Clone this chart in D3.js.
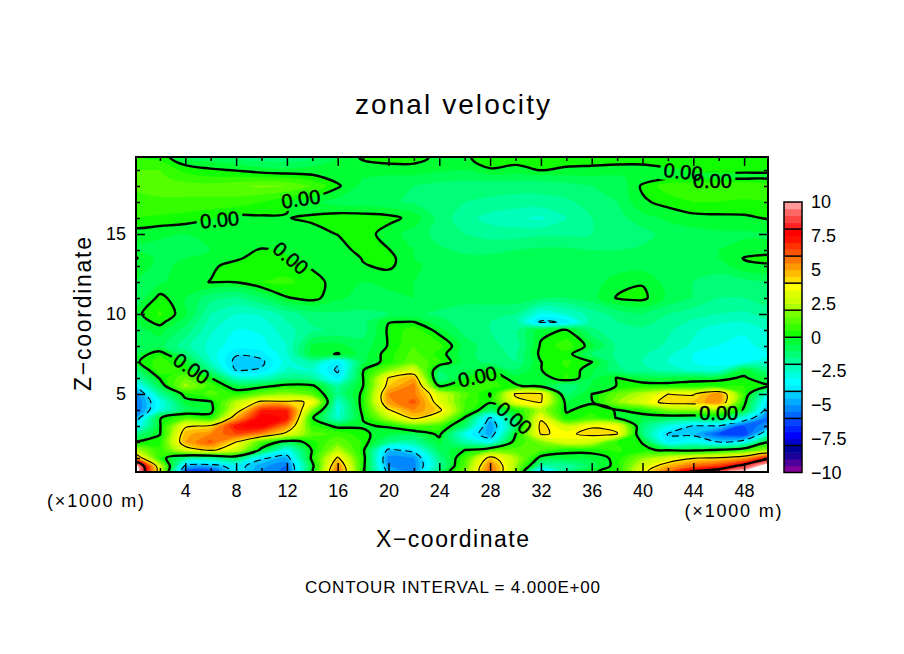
<!DOCTYPE html>
<html lang="en">
<head>
<meta charset="UTF-8">
<title>zonal velocity</title>
<script src="https://d3js.org/d3.v7.min.js"></script>
<style>
    body { margin: 0; background: #fff; }
    text { font-family: "Liberation Sans", Arial, sans-serif; fill: #000; }
    .tick text { font-size: 18px; }
</style>
</head>
<body>
<script>
// grid coordinates, x and z in km
var xValues = d3.range(0, 51, 2);
var zValues = [0.125, 0.5, 1, 1.5, 2, 2.5, 3, 3.5, 4, 4.5, 5, 5.5, 6, 6.5, 7, 7.5, 8, 9, 9.5, 10, 11, 12, 13, 13.5, 14, 15, 16, 17, 18, 18.5, 19, 19.8];

// velocity, one row per zValues entry, bottom row first
var velocity = [
    [11.5,3,-6,-6.5,-3.5,-5,-5.8,-0.1,6,0.2,-4.5,-5,-1,1.5,6,2,-4.5,-1.5,-0.1,0.3,3.5,6,8.3,9,10.5,12],
    [11,2.8,-4.3,-4.5,-3.5,-4.8,-5.5,-0.3,5.5,0.3,-5,-5.3,-1.8,1.2,5.8,2.2,-1.8,-2,-0.8,0.3,3,4.8,6,6.8,8.6,11],
    [5.5,0.5,-1.5,-1.8,-0.8,-3.8,-4.5,0.3,4.2,0.4,-5.2,-5,-1.5,0.8,4.5,2.3,-0.3,-0.3,-0.4,0.2,2,3,3.9,4.2,5,7.5],
    [2.5,0.6,3.2,4.3,3,-0.3,-3,0.1,2.5,0.2,-4.3,-3.5,-0.8,0,1,1.2,1,0.2,0.3,0.6,0.1,-0.1,-0.3,0.1,0.8,2],
    [0.02,0.4,5,6.2,4,1,-0.5,0.3,1.5,0.4,-1.5,-1.8,-0.3,-2,-3.2,0.5,1.8,3.3,2.8,0.5,-0.03,-3.6,-3,-4,-3.2,-0.1],
    [-1.5,-0.05,4.8,5.5,6.5,5.5,3.5,1.3,0.8,0.2,-0.5,-0.8,0.2,-3,-4.8,-0.05,4.1,3.8,4.3,4.05,-1.3,-4.1,-4.3,-6,-6.5,-2.5],
    [-3.8,-0.1,3.8,4.2,7.4,7.8,5.5,0.6,-0.2,-0.1,0.1,1.2,0.8,-1,-5,-1.2,4.4,2.8,3.9,3.8,-1.2,-2.8,-4.1,-4,-6,-5],
    [-5,-0.05,1,0.4,5,7.9,7.4,0.1,-2.5,0.05,2.5,4.3,3,-0.1,-4.2,-0.8,3.8,0.2,0.8,-0.05,-0.5,-0.8,-1,-0.8,-3,-5.8],
    [-5.8,-2.8,-0.9,-0.3,3.2,7,7,1.8,-2.8,0.3,3.9,5.5,4.3,1,-0.8,0.3,2.5,-0.1,0.3,-0.05,0.5,1.8,2,2,-0.2,-5],
    [-5.8,-3,-0.3,-0.1,2.5,4.3,4.2,3.9,-2.5,0.4,5.3,6.2,3.4,1,0.1,3.6,4.1,-0.3,-0.1,2,3.2,4.5,4.6,5.5,0.3,-4.2],
    [-5.5,-1.8,0.3,1.2,0.5,1.5,2,1.2,-1.5,0.2,5.5,5.7,3,1.2,-0.05,4.2,4.2,-1.2,0,1.5,2.5,4,3.9,5.5,0.7,-3],
    [-3.8,-0.6,2.2,0.8,-0.5,-0.3,0.3,0.2,-1.8,0,4.5,5.8,0,0.5,0.8,0.1,-0.3,-1.5,-0.4,0.02,0.4,0.3,0.4,0.4,0.5,0.1],
    [-2.2,0.1,1.5,0.05,-2.4,-2.4,-1.5,-1.8,-3.6,0,4.1,4.9,-1.5,-0.05,0.5,-0.3,-0.5,0.6,-0.6,0.03,-0.5,-0.5,-0.3,-0.2,0.1,-0.6],
    [-1.2,0.9,0.4,-1.5,-4.1,-3.9,-2.4,-2.6,-4.2,-0.05,1.8,3,-0.9,-0.7,-0.02,-1,-0.02,0.5,-0.4,-1.4,-1.8,-2.2,-2.6,-2.8,-0.3,-1.5],
    [-0.2,0.8,-0.1,-2.4,-4.3,-4.2,-2.7,-1.9,-3.8,-0.6,0.3,1.5,0.6,-0.7,-1.2,-1.5,-0.02,0.6,0.02,-1.5,-2,-2.5,-3,-3.2,-3.1,-2.6],
    [-0.5,0.4,-1.2,-2.7,-3.9,-3.7,-2.6,-0.3,0.05,-0.7,0.3,1.2,0.3,-0.8,-1.3,-1.6,0.2,0.3,-1,-1.6,-1.9,-2.4,-3,-3.3,-3.4,-3],
    [-1,-0.8,-1.8,-2.7,-3.3,-3.2,-2.5,-0.4,-0.3,-0.8,0.05,1,0.7,-0.7,-1.3,-1.8,0.1,0.8,-0.3,-1.6,-1.7,-2.1,-2.6,-3,-3.2,-2.7],
    [-0.7,-0.3,-1.2,-2.4,-3,-2.9,-2.2,-1.6,-1.4,-1.2,0.1,0.8,-0.3,-1.2,-1.5,-1.6,-0.2,0.05,-1.4,-1.8,-1.6,-1.9,-2.4,-2.8,-2.9,-2.4],
    [-0.4,0.2,-0.8,-2.2,-2.8,-2.7,-2,-1.4,-1.2,-1.2,-0.02,0.02,-0.8,-1.3,-1.5,-1.8,-4.2,-3.9,-1.7,-1.5,-1.3,-1.7,-2.1,-2.4,-2.5,-2.1],
    [-0.25,0.6,-0.4,-2,-2.5,-2.4,-1.8,-1.2,-1.1,-1.1,-1,-0.9,-1.1,-1.3,-1.4,-1.5,-3,-2.5,-1.8,-1.3,-1,-1.5,-1.8,-2,-2.1,-1.8],
    [-1,0.2,-0.5,-1.3,-1.6,-1,-0.05,0.2,-0.4,-0.7,-0.6,-0.5,-0.7,-0.8,-0.7,-0.7,-0.9,-1,-0.7,0.05,0.15,-0.6,-1,-1.5,-1.5,-1.2],
    [-0.5,-0.6,-0.2,0.02,0.02,0.5,0.6,0.3,-0.3,-0.5,-0.4,-0.5,-0.7,-0.8,-0.7,-0.6,-0.7,-0.8,-0.8,-0.2,-0.05,-0.7,-1,-1.2,-1.2,-1],
    [-0.3,-0.6,-0.4,-0.1,0.2,0.4,0.3,-0.1,-0.4,-0.05,0.12,-0.4,-0.7,-0.7,-0.7,-0.6,-0.7,-0.8,-0.9,-0.8,-0.7,-0.8,-0.9,-0.8,-0.1,-0.1],
    [0.1,-0.7,-0.5,-0.25,-0.1,0.25,0.03,-0.2,-0.5,0.05,0.2,-0.5,-0.8,-0.9,-0.9,-0.8,-0.7,-0.7,-0.8,-0.9,-0.8,-0.8,-0.7,-0.5,0.03,0.2],
    [-0.6,-0.7,-0.6,-0.5,-0.2,0.05,-0.05,-0.3,-0.3,0.25,0.03,-0.5,-0.9,-1.1,-1.1,-1,-0.9,-0.9,-1,-1,-0.9,-0.8,-0.7,-0.5,-0.3,-0.3],
    [-0.3,-0.4,-0.5,-0.5,-0.5,-0.5,-0.4,-0.2,0.02,0.3,-0.3,-0.7,-1.2,-1.5,-1.7,-1.7,-1.6,-1.6,-1.5,-1.5,-1.2,-0.8,-0.7,-0.6,-0.6,-0.6],
    [0.5,0.4,0.3,0.05,-0.2,-0.1,-0.02,0.1,0.3,0.3,0.2,-0.2,-1.2,-1.8,-2.2,-2.4,-2.6,-2,-1.5,-1.2,-0.7,-0.4,-0.2,-0.15,-0.1,0.05],
    [0.8,0.9,0.9,0.9,0.8,0.5,0.05,-0.4,-0.7,-0.8,-0.9,-1.1,-1.3,-1.5,-1.6,-1.7,-1.7,-1.6,-1.3,-1,-0.1,0.2,0.5,0.5,0.4,0.5],
    [1.1,1.2,1.2,1.2,1.4,1.6,1.5,1,0.1,-0.7,-0.9,-1,-1.2,-1.2,-1.3,-1.3,-1.3,-1.2,-1,-0.9,0.1,0.8,0.9,1,1,0.8],
    [1,1.1,0.8,0.6,0.6,0.6,0.5,0.2,-0.2,-0.5,-0.6,-0.6,-0.8,-0.9,-0.8,-0.8,-0.8,-0.7,-0.6,-0.6,-0.3,-0.05,-0.1,-0.1,-0.1,-0.1],
    [1,1,0.3,0.1,-0.05,-0.3,-0.4,-0.3,-0.5,-0.3,-0.3,-0.3,-0.4,-0.5,-0.05,-0.2,0.03,-0.1,-0.2,-0.3,-0.3,-0.1,0.02,0.06,0.05,0.05],
    [0.6,0.3,-0.5,-0.8,-1,-1.3,-1.3,-1,-0.5,0.1,0.3,0.3,-0.2,-0.1,0.3,0.3,0.3,0.3,0.4,0.4,0.4,0.4,0.5,0.5,0.5,0.5]
];

// one colour per 0.5 step from -10 up to 10
var levelColors = [
    "#800099","#4d0099","#1a0099","#000099",
    "#0000cc","#0000ff","#0022ff","#0044ff",
    "#0066ff","#0088ff","#00aaff","#00ccff",
    "#00eeff","#00ffff","#00ffdd","#00ffbb",
    "#00ff99","#00ff77","#00ff55","#00ff33",
    "#11ff00","#33ff00","#55ff00","#77ff00",
    "#aaff00","#ccff00","#ddff00","#ffff00",
    "#ffdd00","#ffbb00","#ff9900","#ff7700",
    "#ff5500","#ff3300","#ff1100","#ff0000",
    "#ff2222","#ff4444","#ff6666","#ff9999"
];

var contourLevels = [-8, -4, 0, 4, 8];
var xTicksMajor = d3.range(4, 49, 4);
var xTicksMinor = d3.range(2, 50, 4);
var zTicksMajor = [5, 10, 15];
var zTicksMinor = [1, 2, 3, 4, 6, 7, 8, 9, 11, 12, 13, 14, 16, 17, 18, 19];
var barTicks = [-10, -7.5, -5, -2.5, 0, 2.5, 5, 7.5, 10];

// "0.00" labels on the zero line
var labelX = [6.7, 13.1, 12.3, 4.5, 27, 29.9, 43.2, 45.5, 46];
var labelZ = [15.9, 17.2, 13.5, 6.6, 6.1, 3.5, 18.9, 18.3, 3.8];
var labelAngle = [-5, -8, 40, 35, -12, 40, 6, 0, 0];

var w = 904, h = 654;
var left = 136, right = 768, top_ = 157, bottom = 472;

var svg = d3.select("body").append("svg").attr("width", w).attr("height", h);

var x = d3.scaleLinear().domain([0, 50]).range([134.5, 769.5]);
var z = d3.scaleLinear().domain([0, 5]).range([474, 394]);

// grid index -> data value, the z rows are not evenly spaced
var xIndex = d3.scaleLinear().domain(d3.range(xValues.length)).range(xValues).clamp(true);
var zIndex = d3.scaleLinear().domain(d3.range(zValues.length)).range(zValues).clamp(true);

// border vertices get pushed outside the clip so the curve does not round the corners
function project(p) {
    var px = x(xIndex(p[0] - 0.5)), py = z(zIndex(p[1] - 0.5));
    if (p[0] < 0.5) px -= 30;
    if (p[0] > xValues.length - 0.5) px += 30;
    if (p[1] < 0.5) py += 30;
    if (p[1] > zValues.length - 0.5) py -= 30;
    return [px, py];
}

var ringLine = d3.line().curve(d3.curveCatmullRomClosed.alpha(0.5));

function contourPath(c) {
    var d = "";
    c.coordinates.forEach(function(polygon) {
        polygon.forEach(function(ring) {
            d += ringLine(ring.slice(0, -1).map(project));
        });
    });
    return d;
}

var flat = d3.merge(velocity);
var contours = d3.contours().size([xValues.length, zValues.length]);

svg.append("clipPath").attr("id", "plotClip").append("rect")
    .attr("x", left).attr("y", top_).attr("width", right - left).attr("height", bottom - top_);

var plot = svg.append("g").attr("clip-path", "url(#plotClip)");

// filled bands, each level painted over the one below
plot.append("rect")
    .attr("x", left).attr("y", top_).attr("width", right - left).attr("height", bottom - top_)
    .attr("fill", levelColors[0]);

levelColors.forEach(function(c, i) {
    plot.append("path")
        .attr("d", contourPath(contours.contour(flat, -10 + i * 0.5)))
        .attr("fill", c);
});
plot.append("path").attr("d", contourPath(contours.contour(flat, 10))).attr("fill", "#fff");

// gaps in the zero line where the labels sit
var mask = svg.append("mask").attr("id", "labelGaps").attr("maskUnits", "userSpaceOnUse")
    .attr("x", 0).attr("y", 0).attr("width", w).attr("height", h);
mask.append("rect").attr("width", w).attr("height", h).attr("fill", "#fff");
labelX.forEach(function(d, i) {
    mask.append("rect")
        .attr("x", -23).attr("y", -10).attr("width", 46).attr("height", 20)
        .attr("fill", "#000")
        .attr("transform", "translate(" + x(d) + "," + z(labelZ[i]) + ") rotate(" + labelAngle[i] + ")");
});

var lines = plot.append("g").attr("mask", "url(#labelGaps)");
contourLevels.forEach(function(level) {
    lines.append("path")
        .attr("d", contourPath(contours.contour(flat, level)))
        .attr("fill", "none")
        .attr("stroke", "#000")
        .attr("stroke-linejoin", "round")
        .attr("stroke-width", level % 8 === 0 ? 2.4 : 1.1)
        .attr("stroke-dasharray", level < 0 ? "7,4" : null);
});

labelX.forEach(function(d, i) {
    svg.append("text")
        .attr("transform", "translate(" + x(d) + "," + z(labelZ[i]) + ") rotate(" + labelAngle[i] + ")")
        .attr("text-anchor", "middle")
        .attr("dy", "0.36em")
        .style("font-size", "20px")
        .style("stroke", "#000")
        .style("stroke-width", "0.5px")
        .text("0.00");
});

// axes: all ticks point inwards, long on the labelled values
function drawAxis(axis, tx, ty, labelled) {
    var g = svg.append("g").attr("transform", "translate(" + tx + "," + ty + ")").call(axis);
    g.select(".domain").remove();
    g.selectAll("line").attr("stroke", "#000").attr("stroke-width", 1.5);
    if (!labelled) g.selectAll("text").remove();
}

drawAxis(d3.axisBottom(x).tickValues(xTicksMajor).tickSize(-9).tickPadding(12).tickFormat(d3.format("d")), 0, bottom, true);
drawAxis(d3.axisBottom(x).tickValues(xTicksMinor).tickSize(-4), 0, bottom, false);
drawAxis(d3.axisTop(x).tickValues(xTicksMajor).tickSize(-9), 0, top_, false);
drawAxis(d3.axisTop(x).tickValues(xTicksMinor).tickSize(-4), 0, top_, false);
drawAxis(d3.axisLeft(z).tickValues(zTicksMajor).tickSize(-9).tickPadding(10).tickFormat(d3.format("d")), left, 0, true);
drawAxis(d3.axisLeft(z).tickValues(zTicksMinor).tickSize(-4), left, 0, false);
drawAxis(d3.axisRight(z).tickValues(zTicksMajor).tickSize(-9), right, 0, false);
drawAxis(d3.axisRight(z).tickValues(zTicksMinor).tickSize(-4), right, 0, false);

svg.append("rect")
    .attr("x", left).attr("y", top_).attr("width", right - left).attr("height", bottom - top_)
    .attr("fill", "none").attr("stroke", "#000").attr("stroke-width", 2);

// colour bar
var barScale = d3.scaleLinear().domain([-10, 10]).range([472.5, 202]);
var barLeft = 784, barWidth = 18;

svg.append("g").selectAll("rect")
    .data(levelColors)
    .enter()
    .append("rect")
    .attr("x", barLeft)
    .attr("y", function(d, i) { return barScale(-10 + (i + 1) * 0.5); })
    .attr("width", barWidth)
    .attr("height", function(d, i) { return barScale(-10 + i * 0.5) - barScale(-10 + (i + 1) * 0.5) + 0.5; })
    .attr("fill", function(d) { return d; });

svg.append("g").selectAll("line")
    .data(d3.range(-8, 9, 2))
    .enter()
    .append("line")
    .attr("x1", barLeft).attr("x2", barLeft + barWidth)
    .attr("y1", function(d) { return barScale(d); })
    .attr("y2", function(d) { return barScale(d); })
    .attr("stroke", "#000").attr("stroke-width", 1.5);

svg.append("rect")
    .attr("x", barLeft).attr("y", barScale(10)).attr("width", barWidth).attr("height", barScale(-10) - barScale(10))
    .attr("fill", "none").attr("stroke", "#000").attr("stroke-width", 1.5);

var barAxis = svg.append("g")
    .attr("transform", "translate(" + (barLeft + barWidth) + ",0)")
    .call(d3.axisRight(barScale).tickValues(barTicks).tickSize(0).tickPadding(9).tickFormat(function(d) {
        return String(d).replace("-", "\u2212");
    }));
barAxis.select(".domain").remove();

// titles
function addText(str, tx, ty, size, length, rotate) {
    svg.append("text")
        .attr("transform", "translate(" + tx + "," + ty + ")" + (rotate ? " rotate(" + rotate + ")" : ""))
        .attr("text-anchor", "middle")
        .attr("dy", "0.36em")
        .attr("textLength", length)
        .attr("lengthAdjust", "spacing")
        .style("font-size", size + "px")
        .text(str);
}

addText("zonal velocity", 452.5, 104, 28, 195);
addText("X\u2212coordinate", 452.5, 539, 23, 153);
addText("Z\u2212coordinate", 83, 314, 23, 154, -90);
addText("CONTOUR INTERVAL = 4.000E+00", 452.5, 587, 17, 295);
addText("(\u00d71000 m)", 95.5, 501, 18, 97);
addText("(\u00d71000 m)", 733, 511, 18, 97);
</script>
</body>
</html>
